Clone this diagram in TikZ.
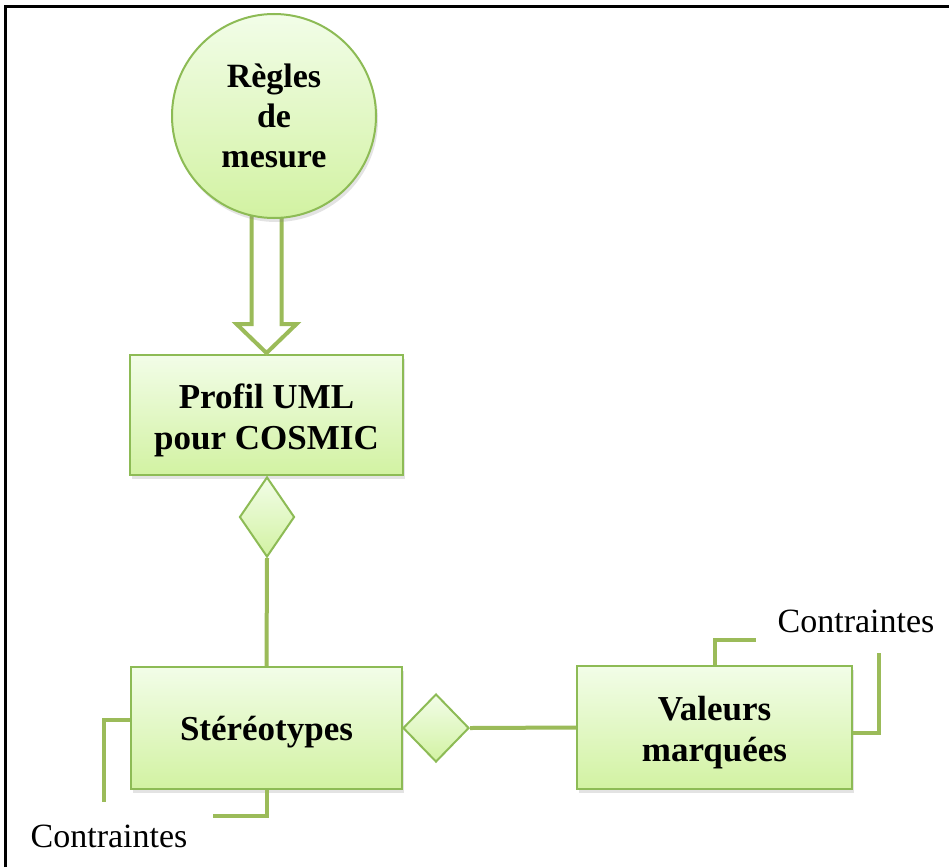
\documentclass[tikz,border=0pt]{standalone}
\usepackage{fontspec}
\setmainfont{Liberation Serif}
\usetikzlibrary{shapes.geometric,shadows,calc}
\definecolor{gborder}{HTML}{8DBB55}
\definecolor{gline}{HTML}{9BBB59}
\definecolor{gtop}{HTML}{F2FDE8}
\definecolor{gbot}{HTML}{D2F2A2}
\tikzset{
  boxstyle/.style={draw=gborder, line width=2pt, top color=gtop, bottom color=gbot,
    align=center, inner sep=0pt, font=\fontsize{35}{41}\selectfont\bfseries,
    drop shadow={shadow xshift=2pt,shadow yshift=-4pt,opacity=0.22}},
  circstyle/.style={boxstyle, circle, minimum size=204pt},
  rectstyle/.style={boxstyle, rectangle},
  boxtext/.style={align=center, inner sep=0pt, yshift=-5pt, font=\fontsize{35}{41}\selectfont\bfseries},
  diastyle/.style={draw=gborder, line width=2pt, top color=gtop, bottom color=gbot,
    diamond, inner sep=0pt},
  conn/.style={draw=gline, line width=4pt},
  hollow/.style={draw=gline, line width=4pt, fill=white, line join=miter},
  lbl/.style={font=\fontsize{34}{40}\selectfont, inner sep=0pt},
}
\begin{document}
\begin{tikzpicture}[x=1pt,y=1pt]
\useasboundingbox (0,0) rectangle (949,-867);
\fill[white] (0,0) rectangle (949,-867);
\draw[black, line width=2.5pt] (5.5,-867) -- (5.5,-6.5) -- (949,-6.5);

% nodes
\node[rectstyle, minimum width=273pt, minimum height=120pt,
  label={[boxtext]center:Profil UML\\pour COSMIC}] (prof) at (266.5,-415) {};
\node[rectstyle, minimum width=271pt, minimum height=122pt,
  label={[boxtext, yshift=1pt]center:Stéréotypes}] (ster) at (266.5,-728) {};
\node[rectstyle, minimum width=275pt, minimum height=123pt,
  label={[boxtext]center:Valeurs\\marquées}] (val) at (714.5,-727.5) {};

% hollow arrow (drawn before the circle so its top is hidden)
\coordinate (tip) at ($(prof.north)+(0,1)$);
\draw[hollow] ($(tip)+(-15,140)$) -- ($(tip)+(-15,29)$) -- ($(tip)+(-30,29)$) -- (tip)
  -- ($(tip)+(30,29)$) -- ($(tip)+(15,29)$) -- ($(tip)+(15,140)$) -- cycle;

\node[circstyle, font=\fontsize{34}{40}\selectfont\bfseries] (regles) at (274,-116) {Règles\\de\\mesure};

\node[diastyle, minimum width=55pt, minimum height=80pt] (d1) at (267,-517) {};
\node[diastyle, minimum width=66pt, minimum height=68pt] (d2) at (436,-728) {};

% connectors
\draw[conn] (d1.south) -- (ster.north);
\draw[conn] (d2.east) -- (val.west);

% constraint brackets
\coordinate (c1) at (104,-802);
\coordinate (c2) at (213,-816);
\coordinate (c3) at (756,-640);
\coordinate (c4) at (879,-653);
\draw[conn] (ster.west |- 0,-720) -- (c1 |- 0,-720) -- (c1);
\draw[conn] (ster.south) -- (ster.south |- c2) -- (c2);
\draw[conn] (val.north) -- (val.north |- c3) -- (c3);
\draw[conn] (val.east |- 0,-733) -- (c4 |- 0,-733) -- (c4);

\node[lbl] (k1) at (109,-836) {Contraintes};
\node[lbl] (k2) at (856,-621) {Contraintes};
\end{tikzpicture}
\end{document}
